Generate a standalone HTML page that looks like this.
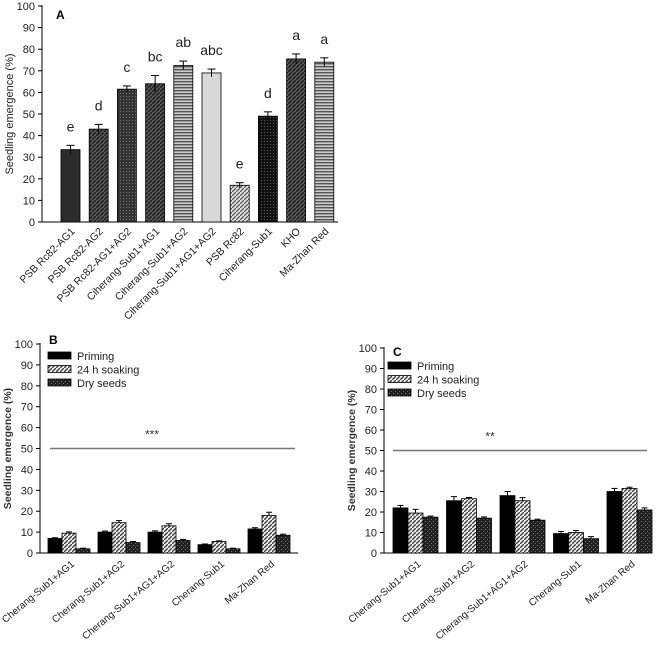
<!DOCTYPE html>
<html><head><meta charset="utf-8"><style>
body{margin:0;background:#fff}
svg{display:block;font-family:"Liberation Sans",sans-serif}
</style></head><body>
<svg id="s" width="658" height="647" viewBox="0 0 658 647">
<defs>
<pattern id="pDiag" width="4" height="4" patternUnits="userSpaceOnUse"><rect width="4" height="4" fill="#555"/><path d="M0,4L4,0" stroke="#222" stroke-width="1.5"/></pattern>
<pattern id="pLight" width="4" height="4" patternUnits="userSpaceOnUse"><rect width="4" height="4" fill="#ddd"/><path d="M0,4L4,0" stroke="#555" stroke-width="1.2"/></pattern>
<pattern id="pHoriz" width="4" height="3" patternUnits="userSpaceOnUse"><rect width="4" height="3" fill="#ccc"/><rect width="4" height="1.4" fill="#555"/></pattern>
<pattern id="pDot" width="3" height="3" patternUnits="userSpaceOnUse"><rect width="3" height="3" fill="#333"/><rect width="1" height="1" fill="#777"/></pattern>
<pattern id="pDotD" width="3" height="3" patternUnits="userSpaceOnUse"><rect width="3" height="3" fill="#111"/><rect width="1" height="1" fill="#555"/></pattern>
<pattern id="pSoak" width="4" height="4" patternUnits="userSpaceOnUse"><rect width="4" height="4" fill="#eee"/><path d="M0,4L4,0" stroke="#444" stroke-width="1.4"/></pattern>
<pattern id="pDry" width="4" height="4" patternUnits="userSpaceOnUse"><rect width="4" height="4" fill="#222"/><rect x="1" y="1" width="1" height="1" fill="#777"/><rect x="3" y="3" width="1" height="1" fill="#666"/></pattern>
</defs>
</svg>
<script>
const aCats=["PSB Rc82-AG1","PSB Rc82-AG2","PSB Rc82-AG1+AG2","Ciherang-Sub1+AG1","Ciherang-Sub1+AG2","Ciherang-Sub1+AG1+AG2","PSB Rc82","Ciherang-Sub1","KHO","Ma-Zhan Red"];
const aVals=[33.5,43,61.5,64,72.5,69,17,49,75.5,74];
const aErr=[2,2.2,1.5,3.8,2,1.8,1.2,2,2.3,2];
const aLetters=["e","d","c","bc","ab","abc","e","d","a","a"];
const gCats=["Cherang-Sub1+AG1","Cherang-Sub1+AG2","Cherang-Sub1+AG1+AG2","Cherang-Sub1","Ma-Zhan Red"];
const bPriming=[7,10,10,4,11.5];
const bSoaking=[9.5,14.5,13,5.5,18];
const bDry=[2,5,6,2,8.5];
const bErr=[[0.3,0.5,0.6,0.3,0.6],[0.6,1,1,0.3,1.5],[0.3,0.5,0.5,0.3,0.5]];
const cPriming=[22,25.5,28,9.5,30];
const cSoaking=[19.5,26.5,25.5,10,31.5];
const cDry=[17.5,17,16,7,21];
const cErr=[[1.2,2,2,1,1.5],[1.8,0.6,1.5,1,0.6],[0.5,0.6,0.5,1,1]];
const yTicks=[0,10,20,30,40,50,60,70,80,90,100];
const seriesNames=["Priming","24 h soaking","Dry seeds"];

const S=document.getElementById('s');const NS="http://www.w3.org/2000/svg";
function el(t,a,p){const e=document.createElementNS(NS,t);for(const k in a)e.setAttribute(k,a[k]);(p||S).appendChild(e);return e;}
function txt(x,y,s,a,p){const e=el('text',Object.assign({x:x,y:y},a),p);e.textContent=s;return e;}

function axes(g,x0,y0,y100,xEnd,name,fs){
  const sy=v=>y0-(y0-y100)*v/100;
  const ax=el('line',{x1:x0,y1:y100-1,x2:x0,y2:y0,stroke:'#000','stroke-width':1},g);
  
  const bx=el('line',{x1:x0,y1:y0,x2:xEnd,y2:y0,stroke:'#000','stroke-width':1},g);
  
  yTicks.forEach(v=>{el('line',{x1:x0-4,y1:sy(v),x2:x0,y2:sy(v),stroke:'#000'},g);
    const t=txt(x0-7,sy(v)+4,String(v),{'font-size':fs,'text-anchor':'end',fill:'#222'},g);
    });
  return sy;
}
function errbar(g,cx,top,bot,w){el('line',{x1:cx,y1:top,x2:cx,y2:bot,stroke:'#000'},g);
  el('line',{x1:cx-w,y1:top,x2:cx+w,y2:top,stroke:'#000'},g);}

(function(){
  const g=el('g',{});
  const sy=axes(g,42,222,6,338,'panel-a',11);
  const fills=['#2b2b2b','url(#pDiag)','url(#pDot)','url(#pDiag)','url(#pHoriz)','#d8d8d8','url(#pLight)','url(#pDotD)','url(#pDiag)','url(#pHoriz)'];
  aVals.forEach((v,i)=>{const cx=70.5+28.2*i;
    const r=el('rect',{x:cx-9.5,y:sy(v),width:19,height:222-sy(v),fill:fills[i],stroke:'#000','stroke-width':0.8},g);
    
    errbar(g,cx,sy(v+aErr[i]),sy(v-aErr[i]),4);
    const l=txt(cx,sy(v+aErr[i])-14,aLetters[i],{'font-size':14,'text-anchor':'middle',fill:'#222'},g);
    
    const c=txt(cx+5,232,aCats[i],{'font-size':10.5,'text-anchor':'end',fill:'#222',transform:`rotate(-45 ${cx+5} 232)`},g);
    });
  const t=txt(56,19,'A',{'font-size':12,'font-weight':'bold'},g);
  const yt=txt(13,114,'Seedling emergence (%)',{'font-size':11,'text-anchor':'middle',fill:'#222',transform:'rotate(-90 13 114)'},g);
  
})();

function grouped(name,x0,y0,y100,xEnd,gx0,pitch,bw,data,errs,lineX1,lineX2,stars,starX,legX,legY,labX,labY){
  const g=el('g',{});
  const sy=axes(g,x0,y0,y100,xEnd,name,11);
  const fills=['#000','url(#pSoak)','url(#pDry)'];
  data.forEach((ser,s)=>ser.forEach((v,i)=>{const x=gx0+pitch*i+bw*s;
    const r=el('rect',{x:x,y:sy(v),width:bw,height:y0-sy(v),fill:fills[s],stroke:'#000','stroke-width':0.8},g);
    
    errbar(g,x+bw/2,sy(v+errs[s][i]),sy(v),3);}));
  gCats.forEach((c,i)=>{const cx=gx0+pitch*i+bw*1.5+6;
    const t=txt(cx,y0+12,c,{'font-size':10,'text-anchor':'end',fill:'#222',transform:`rotate(-40 ${cx} ${y0+12})`},g);
    });
  const ln=el('line',{x1:lineX1,y1:sy(50),x2:lineX2,y2:sy(50),stroke:'#777','stroke-width':1.5},g);
  
  const st=txt(starX,sy(50)-10,stars,{'font-size':12,fill:'#333','text-anchor':'middle'},g);
  
  seriesNames.forEach((n,s)=>{const y=legY+s*13.5;
    const sw=el('rect',{x:legX,y:y-4,width:23,height:7,fill:fills[s],stroke:'#000','stroke-width':0.8},g);
    
    const t=txt(legX+29,y+4,n,{'font-size':11,fill:'#222'},g);
    });
  const lb=txt(labX,labY,name==='panel-b'?'B':'C',{'font-size':12,'font-weight':'bold'},g);
  
  const yt=txt(x0-29,(y0+y100)/2,'Seedling emergence (%)',{'font-size':10.5,'font-weight':'bold','text-anchor':'middle',fill:'#333',transform:`rotate(-90 ${x0-29} ${(y0+y100)/2})`},g);
  
}
grouped('panel-b',40,553,344,298,48,50,14,[bPriming,bSoaking,bDry],bErr,50,295,'***',152,48,356,49,344);
grouped('panel-c',384,553,348,649,393,53.5,15,[cPriming,cSoaking,cDry],cErr,393,647,'**',490,388,366,393,356);
</script>
</body></html>
